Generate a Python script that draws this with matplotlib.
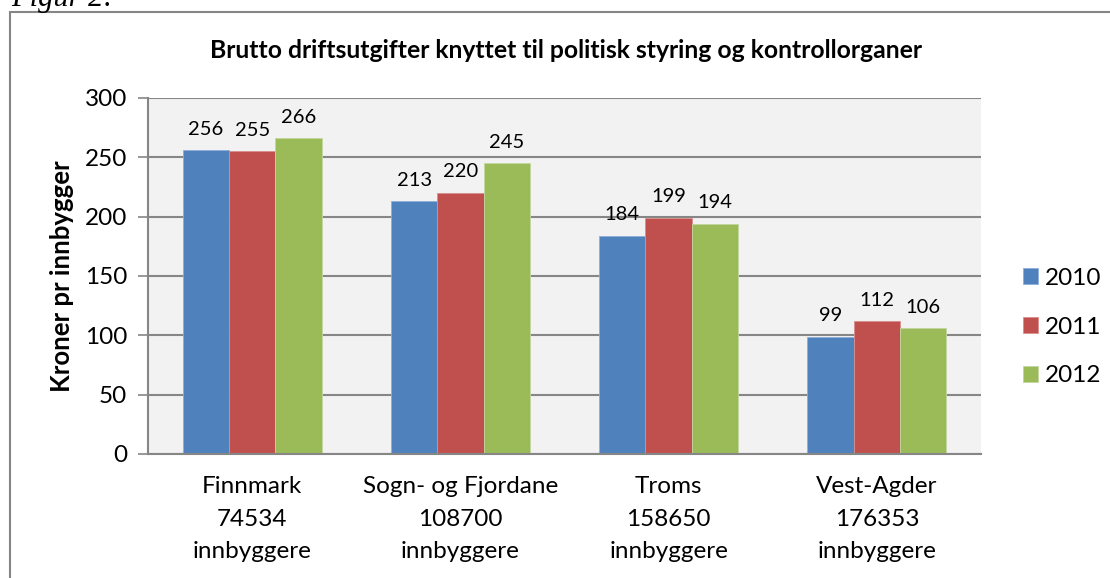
import matplotlib
matplotlib.use('Agg')
import matplotlib.pyplot as plt
import numpy as np
from matplotlib.patches import Rectangle

plt.rcParams['font.family'] = ['Lato', 'DejaVu Sans']

categories = ["Finnmark\n74534\ninnbyggere",
              "Sogn- og Fjordane\n108700\ninnbyggere",
              "Troms\n158650\ninnbyggere",
              "Vest-Agder\n176353\ninnbyggere"]
years = ["2010", "2011", "2012"]
v2010 = [256, 213, 184, 99]
v2011 = [255, 220, 199, 112]
v2012 = [266, 245, 194, 106]
yticks = [0, 50, 100, 150, 200, 250, 300]

colors = ["#4F81BD", "#C0504D", "#9BBB59"]
edges = ["#8FAEDA", "#DA8F8D", "#C3D79F"]

fig = plt.figure(figsize=(11.1, 5.78), dpi=100)
ax = fig.add_axes([148 / 1110, 124 / 578, 833 / 1110, 356 / 578])
ax.set_facecolor("#F2F2F2")

x = np.arange(len(categories))
width = 1 / (3 + 1.5)
for i, (vals, yr) in enumerate(zip([v2010, v2011, v2012], years)):
    bars = ax.bar(x + (i - 1) * width, vals, width, color=colors[i],
                  edgecolor=edges[i], linewidth=0.6, label=yr, zorder=3)
    for b, v in zip(bars, vals):
        ax.annotate(str(v), (b.get_x() + b.get_width() / 2, v),
                    xytext=(0, 9), textcoords='offset points',
                    ha='center', va='bottom', fontsize=14.5)

ax.set_xlim(-0.5, len(categories) - 0.5)
ax.set_ylim(0, 300)
ax.set_yticks(yticks)
ax.set_yticklabels([str(t) for t in yticks], fontsize=17.5)
ax.set_xticks(x)
ax.set_xticklabels(categories, fontsize=17.5, linespacing=1.68)
ax.tick_params(axis='x', length=0, pad=16)
ax.tick_params(axis='y', length=7, color="#868686", width=1.2, pad=8)
ax.yaxis.grid(True, color="#868686", linewidth=1.5, zorder=0)
ax.set_axisbelow(True)
for s in ["top", "right"]:
    ax.spines[s].set_visible(False)
for s in ["left", "bottom"]:
    ax.spines[s].set_color("#868686")
    ax.spines[s].set_linewidth(1.5)
    ax.spines[s].set_zorder(4)

ax.set_ylabel("Kroner pr innbygger", fontsize=18.5, fontweight='bold', labelpad=8)
fig.text(566 / 1110, 1 - 50 / 578, "Brutto driftsutgifter knyttet til politisk styring og kontrollorganer",
         ha='center', va='center', fontsize=17.8, fontweight='bold')

leg = fig.legend(loc='center left', bbox_to_anchor=(1023 / 1110, 1 - 327 / 578), frameon=False,
                 fontsize=17.5, handlelength=0.62, handleheight=0.62, handletextpad=0.3,
                 labelspacing=1.15, borderaxespad=0, borderpad=0)

# outer chart border and the cut-off caption above it
fig.patches.append(Rectangle((10 / 1110, -0.1), 1.2, 1 - 12 / 578 + 0.1,
                             transform=fig.transFigure, fill=False,
                             edgecolor="#868686", linewidth=1.5))
fig.text(11 / 1110, 1 - 6 / 578, "Figur 2:", ha='left', va='baseline',
         fontsize=22, style='italic', family='Liberation Serif')

fig.savefig("out.png", dpi=100)
